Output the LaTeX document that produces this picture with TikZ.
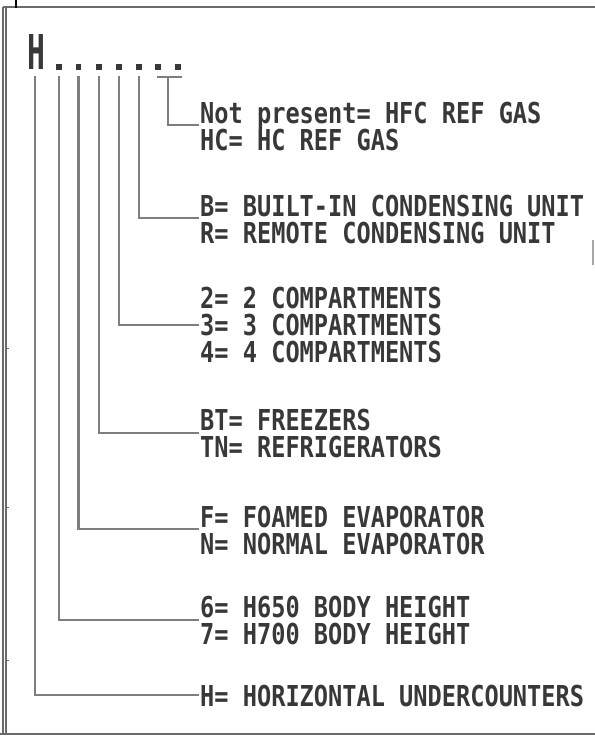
\documentclass[tikz,border=0pt]{standalone}
\usepackage{fontspec}
\newfontfamily\cadfont[FakeStretch=0.82]{DejaVu Sans Mono Bold}
\newfontfamily\cadbig[FakeStretch=0.62]{DejaVu Sans Mono Bold}
\definecolor{txt}{HTML}{383838}
\definecolor{leg}{HTML}{7E7E7E}
\definecolor{frm}{HTML}{6A6A6A}
\tikzset{
  lbl/.style={anchor=base west, inner sep=0pt, text=txt,
    font=\cadfont\fontsize{28.8bp}{27bp}\selectfont},
  leader/.style={draw=leg, line width=2.6bp},
  dotmark/.style={rectangle, fill=txt, inner sep=0pt, minimum size=5.6bp},
  frameline/.style={draw=frm, line width=1.1bp}
}
\begin{document}
\begin{tikzpicture}[x=1bp,y=-1bp]
\useasboundingbox (0,0) rectangle (595,736);
% frame
\draw[frameline, line width=1.8bp] (3,7) -- (595,7);
\draw[frameline] (3,7) -- (3,734);
\draw[frameline] (6,7) -- (6,734);
\draw[frameline, line width=1.6bp] (0,734) -- (595,734);
\draw[black, line width=2bp] (16,0) -- (16,8);
\draw[frm, line width=1bp] (6,348) -- (9,348);
\draw[frm, line width=1bp] (6,507) -- (9,507);
\draw[frm, line width=1bp] (6,660) -- (9,660);
\draw[draw=frm!60, line width=1.5bp] (593,240) -- (593,265);

% code
\node[anchor=base west, inner sep=0pt, text=txt, font=\cadbig\fontsize{48bp}{48bp}\selectfont] (hH) at (27,70) {H};
\node[dotmark] (d1) at (59,67) {};
\node[dotmark] (d2) at (78.5,67) {};
\node[dotmark] (d3) at (99,67) {};
\node[dotmark] (d4) at (119,67) {};
\node[dotmark] (d5) at (139,67) {};
\node[dotmark] (d6) at (158,67) {};
\node[dotmark] (d7) at (178,67) {};
\coordinate (u1) at (157,77);
\coordinate (u2) at (182,77);
\coordinate (um) at (168,77);
\draw[leader] (u1) -- (u2);

% texts
\node[lbl] (ta1) at (200,123) {Not present= HFC REF GAS};
\node[lbl] (ta2) at (200,150) {HC= HC REF GAS};
\node[lbl] (tb1) at (200,216) {B= BUILT-IN CONDENSING UNIT};
\node[lbl] (tb2) at (200,243) {R= REMOTE CONDENSING UNIT};
\node[lbl] (tc1) at (200,308) {2= 2 COMPARTMENTS};
\node[lbl] (tc2) at (200,335) {3= 3 COMPARTMENTS};
\node[lbl] (tc3) at (200,362) {4= 4 COMPARTMENTS};
\node[lbl] (td1) at (200,430) {BT= FREEZERS};
\node[lbl] (td2) at (200,457) {TN= REFRIGERATORS};
\node[lbl] (te1) at (200,527) {F= FOAMED EVAPORATOR};
\node[lbl] (te2) at (200,554) {N= NORMAL EVAPORATOR};
\node[lbl] (tf1) at (200,617) {6= H650 BODY HEIGHT};
\node[lbl] (tf2) at (200,644) {7= H700 BODY HEIGHT};
\node[lbl] (tg1) at (200,706) {H= HORIZONTAL UNDERCOUNTERS};

% leader end points
\coordinate (ea) at (199,125);
\coordinate (eb) at (199,218);
\coordinate (ec) at (199,325);
\coordinate (ed) at (199,433);
\coordinate (ee) at (199,529);
\coordinate (ef) at (199,620);
\coordinate (eg) at (199,695);

% leaders
\draw[leader] (um) |- (ea);
\draw[leader] ([yshift=-6bp]d5.south) |- (eb);
\draw[leader] ([yshift=-6bp]d4.south) |- (ec);
\draw[leader] ([yshift=-6bp]d3.south) |- (ed);
\draw[leader] ([yshift=-6bp]d2.south) |- (ee);
\draw[leader] ([yshift=-6bp]d1.south) |- (ef);
\draw[leader] ([xshift=-1bp,yshift=-6bp]hH.south) |- (eg);
\end{tikzpicture}
\end{document}
